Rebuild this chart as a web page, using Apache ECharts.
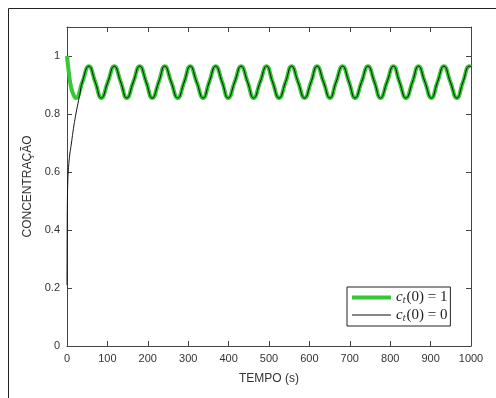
<!DOCTYPE html>
<html>
<head>
<meta charset="utf-8">
<script src="https://cdn.jsdelivr.net/npm/echarts@6/dist/echarts.min.js"></script>
<style>
  html, body { margin: 0; padding: 0; background: #fff; }
  #main { width: 496px; height: 398px; }
</style>
</head>
<body>
<div id="main"></div>
<script>
// c_t(0) = 1 (peaks, troughs and midpoints)
var greenTime = [0, 4, 9, 15, 22, 38, 54, 70, 85, 101, 117, 133, 148, 164, 180, 196, 211, 227, 242, 258,
  274, 290, 305, 321, 337, 352, 368, 384, 399, 415, 431, 447, 462, 478, 494, 509, 525, 541, 556, 572,
  588, 604, 619, 635, 651, 666, 682, 698, 713, 729, 745, 761, 776, 792, 808, 823, 839, 855, 870, 886,
  902, 917, 933, 949, 965, 980, 996, 1000];
var greenValue = [1.0, 0.95, 0.9, 0.87, 0.855, 0.91, 0.965, 0.91, 0.855, 0.91, 0.965, 0.91, 0.855, 0.91, 0.965, 0.91, 0.855, 0.91, 0.965, 0.91,
  0.855, 0.91, 0.965, 0.91, 0.855, 0.91, 0.965, 0.91, 0.855, 0.91, 0.965, 0.91, 0.855, 0.91, 0.965, 0.91, 0.855, 0.91, 0.965, 0.91,
  0.855, 0.91, 0.965, 0.91, 0.855, 0.91, 0.965, 0.91, 0.855, 0.91, 0.965, 0.91, 0.855, 0.91, 0.965, 0.91, 0.855, 0.91, 0.965, 0.91,
  0.855, 0.91, 0.965, 0.91, 0.855, 0.91, 0.965, 0.963];

// c_t(0) = 0 : start-up part, afterwards it lies on top of the green curve
var blackTime = [0, 0.5, 1, 2, 3, 6, 11, 16, 22, 27, 32];
var blackValue = [0.21, 0.4, 0.5, 0.57, 0.6, 0.65, 0.7, 0.75, 0.8, 0.835, 0.87];

var seriesNames = ['ct1', 'ct0'];
var legendLabels = { ct1: '1', ct0: '0' };

var xTicks = [0, 100, 200, 300, 400, 500, 600, 700, 800, 900, 1000];
var yTicks = [0, 0.2, 0.4, 0.6, 0.8, 1];

var greenData = greenTime.map(function (t, i) { return [t, greenValue[i]]; });
var blackData = blackTime.map(function (t, i) { return [t, blackValue[i]]; });
greenTime.forEach(function (t, i) {
  if (t > blackTime[blackTime.length - 1]) blackData.push([t, greenValue[i]]);
});

var chart = echarts.init(document.getElementById('main'));

var labelFont = { color: '#333', fontSize: 11, fontFamily: 'Liberation Sans, Arial, sans-serif' };
var nameFont = { color: '#333', fontSize: 12, fontFamily: 'Liberation Sans, Arial, sans-serif' };
var axisColor = '#444';
var serif = 'Liberation Serif, Times New Roman, serif';

function boxAxis(extra) {
  return Object.assign({
    type: 'value',
    axisLine: { show: true, onZero: false, lineStyle: { color: axisColor, width: 1 } },
    axisTick: { show: true, inside: true, length: 5, lineStyle: { color: axisColor } },
    splitLine: { show: false }
  }, extra);
}

var option = {
  animation: false,
  backgroundColor: '#fff',
  grid: { left: 67, right: 25, top: 27, bottom: 52, containLabel: false, outerBoundsMode: 'none' },
  xAxis: [
    boxAxis({
      min: xTicks[0], max: xTicks[xTicks.length - 1], interval: 100,
      name: 'TEMPO (s)', nameLocation: 'middle', nameGap: 27,
      nameTextStyle: nameFont,
      axisLabel: Object.assign({ margin: 7, formatter: function (v) { return String(v); } }, labelFont)
    }),
    boxAxis({
      position: 'top', min: xTicks[0], max: xTicks[xTicks.length - 1], interval: 100,
      axisLabel: { show: false }
    })
  ],
  yAxis: [
    boxAxis({
      min: yTicks[0], max: 1.1, interval: 0.2,
      name: 'CONCENTRAÇÃO', nameLocation: 'middle', nameGap: 28,
      nameTextStyle: nameFont,
      axisLabel: Object.assign({ margin: 7, showMaxLabel: false }, labelFont)
    }),
    boxAxis({
      position: 'right', min: yTicks[0], max: 1.1, interval: 0.2,
      axisLabel: { show: false }
    })
  ],
  legend: {
    left: 347, top: 287, orient: 'vertical',
    data: [
      { name: seriesNames[0], icon: 'path://M0,0 L39,0 L39,4 L0,4 Z' },
      { name: seriesNames[1], icon: 'path://M0,0 L39,0 L39,1 L0,1 Z' }
    ],
    symbolKeepAspect: true,
    backgroundColor: '#fff',
    borderColor: '#222', borderWidth: 1, borderRadius: 0,
    padding: [3, 3, 3, 5],
    itemGap: 2, itemWidth: 39, itemHeight: 15,
    formatter: function (name) {
      return '{i|c}{s|t}{n|(0) = ' + legendLabels[name] + '}';
    },
    textStyle: {
      color: '#222',
      rich: {
        i: { fontFamily: serif, fontStyle: 'italic', fontSize: 15, color: '#222' },
        s: { fontFamily: serif, fontStyle: 'italic', fontSize: 10, color: '#222', verticalAlign: 'bottom', padding: [6, 1, 0, 0] },
        n: { fontFamily: serif, fontSize: 15, color: '#222' }
      }
    }
  },
  graphic: [
    {
      type: 'polyline', silent: true,
      shape: { points: [[8.5, 398], [8.5, 8.5], [496, 8.5]] },
      style: { stroke: '#222', lineWidth: 1, fill: null }
    }
  ],
  series: [
    {
      name: seriesNames[0], type: 'line', xAxisIndex: 0, yAxisIndex: 0,
      data: greenData, smooth: 0.5, symbol: 'none',
      lineStyle: { color: '#35c835', width: 4 }, itemStyle: { color: '#35c835' }
    },
    {
      name: seriesNames[1], type: 'line', xAxisIndex: 0, yAxisIndex: 0,
      data: blackData, smooth: 0.5, symbol: 'none',
      lineStyle: { color: '#111', width: 1 }, itemStyle: { color: '#111' }
    },
    {
      // keeps the top and right box axes alive
      name: 'box', type: 'line', xAxisIndex: 1, yAxisIndex: 1,
      data: [], symbol: 'none', silent: true
    }
  ]
};

chart.setOption(option);
</script>
</body>
</html>
